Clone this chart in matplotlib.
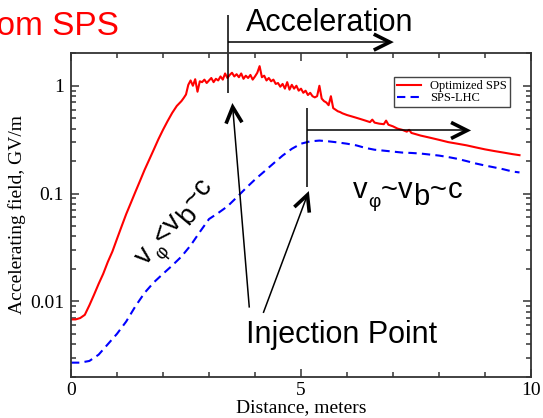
import numpy as np
import matplotlib
matplotlib.use("Agg")
import matplotlib.pyplot as plt
from matplotlib.ticker import FixedLocator, FixedFormatter, LogLocator, NullFormatter, MultipleLocator

# ---- data -------------------------------------------------------------
# Optimized SPS: accelerating field (GV/m) vs distance (m)
opt_x = [0.0, 0.1, 0.2, 0.3, 0.4, 0.5, 0.6, 0.7, 0.8, 0.9,
         1.0, 1.1, 1.2, 1.3, 1.4, 1.5, 1.6, 1.7, 1.8, 1.9,
         2.0, 2.1, 2.2, 2.3, 2.4, 2.45, 2.5,
         2.55, 2.60, 2.65, 2.70, 2.75, 2.80, 2.85, 2.90, 2.95, 3.00,
         3.05, 3.10, 3.15, 3.20, 3.25, 3.30, 3.35, 3.40, 3.45, 3.50,
         3.55, 3.60, 3.65, 3.70, 3.75, 3.80, 3.85, 3.90, 3.95, 4.00,
         4.05, 4.10, 4.15, 4.20, 4.25, 4.30, 4.35, 4.40, 4.45, 4.50,
         4.55, 4.60, 4.65, 4.70, 4.75, 4.80, 4.85, 4.90, 4.95, 5.00,
         5.05, 5.10, 5.15, 5.20, 5.25, 5.30, 5.35, 5.40, 5.45, 5.50,
         5.55, 5.60, 5.65, 5.70, 5.75, 5.80, 5.85, 5.90, 5.95, 6.00,
         6.1, 6.2, 6.3, 6.4, 6.5, 6.55, 6.6, 6.7, 6.8, 6.85, 6.9,
         7.0, 7.1, 7.2, 7.3, 7.35, 7.4, 7.5, 7.6, 7.8, 8.0, 8.2,
         8.4, 8.6, 8.8, 9.0, 9.2, 9.4, 9.6, 9.75]
opt_y = [0.0068, 0.0068, 0.0070, 0.0075, 0.0092, 0.0115, 0.0145, 0.0180, 0.0232, 0.0290,
         0.0380, 0.0496, 0.0645, 0.0817, 0.1037, 0.1310, 0.1660, 0.2060, 0.2560, 0.3190,
         0.3900, 0.4700, 0.5600, 0.6500, 0.7200, 0.7700, 0.8300,
         1.02, 1.12, 1.00, 1.15, 0.88, 1.10, 1.08, 1.14, 1.06, 1.12,
         1.18, 1.08, 1.16, 1.12, 1.22, 1.14, 1.30, 1.18, 1.26, 1.32,
         1.22, 1.28, 1.20, 1.30, 1.16, 1.24, 1.18, 1.26, 1.14, 1.22,
         1.32, 1.52, 1.20, 1.24, 1.12, 1.18, 1.10, 1.14, 1.04, 1.06,
         0.98, 1.04, 0.94, 1.08, 0.92, 1.02, 0.94, 1.00, 0.90, 0.94,
         0.86, 0.90, 0.82, 0.86, 0.80, 0.78, 0.80, 1.00, 0.76, 0.72,
         0.70, 0.66, 0.80, 0.62, 0.60, 0.58, 0.57, 0.555, 0.545, 0.535,
         0.52, 0.505, 0.49, 0.475, 0.46, 0.485, 0.455, 0.445, 0.44, 0.475, 0.435,
         0.42, 0.40, 0.39, 0.375, 0.39, 0.365, 0.355, 0.345, 0.33, 0.315, 0.30,
         0.29, 0.28, 0.268, 0.257, 0.248, 0.24, 0.232, 0.227]

# SPS-LHC
lhc_x = [0.0, 0.2, 0.4, 0.6, 0.8, 1.0, 1.2, 1.4, 1.6, 1.8,
         2.0, 2.2, 2.4, 2.6, 2.8, 3.0, 3.2, 3.4, 3.6, 3.8,
         4.0, 4.2, 4.4, 4.6, 4.8, 5.0, 5.2, 5.4, 5.6, 5.8,
         6.0, 6.2, 6.4, 6.6, 6.8, 7.0, 7.2, 7.4, 7.6, 7.8,
         8.0, 8.2, 8.4, 8.6, 8.8, 9.0, 9.2, 9.4, 9.6, 9.75]
lhc_y = [0.0027, 0.0027, 0.0028, 0.0032, 0.0040, 0.0050, 0.0065, 0.0090, 0.0120, 0.0150,
         0.0180, 0.0215, 0.0260, 0.0330, 0.0440, 0.0580, 0.0660, 0.0760, 0.0920, 0.1120,
         0.1350, 0.1600, 0.1900, 0.2250, 0.2600, 0.2900, 0.3050, 0.3100, 0.3050, 0.2980,
         0.2900, 0.2800, 0.2650, 0.2550, 0.2500, 0.2450, 0.2400, 0.2380, 0.2350, 0.2300,
         0.2250, 0.2180, 0.2100, 0.2000, 0.1900, 0.1820, 0.1750, 0.1680, 0.1600, 0.1570]

series_labels = ["Optimized SPS", "SPS-LHC"]
y_ticks = [0.01, 0.1, 1]
y_tick_labels = ["0.01", "0.1", "1"]
x_ticks = [0, 5, 10]
x_tick_labels = ["0", "5", "10"]

# ---- figure -------------------------------------------------------------
W, H = 543, 418
fig = plt.figure(figsize=(W / 100, H / 100), dpi=100)
ax = fig.add_axes([71 / W, 1 - 376.7 / H, 460 / W, 323.4 / H])

serif = "Liberation Serif"
sans = "Liberation Sans"

ax.plot(opt_x, opt_y, color="#ff0000", lw=1.5, label=series_labels[0])
ax.plot(lhc_x, lhc_y, color="#0000ff", lw=1.5, ls=(0, (4, 2.5)), label=series_labels[1])

ax.set_yscale("log")
ax.set_xlim(0, 10)
ax.set_ylim(0.002, 2.0)

ax.xaxis.set_major_locator(FixedLocator(x_ticks))
ax.xaxis.set_major_formatter(FixedFormatter(x_tick_labels))
ax.xaxis.set_minor_locator(MultipleLocator(1))
ax.yaxis.set_major_locator(FixedLocator(y_ticks))
ax.yaxis.set_major_formatter(FixedFormatter(y_tick_labels))
ax.yaxis.set_minor_locator(LogLocator(base=10, subs=np.arange(2, 10)))
ax.yaxis.set_minor_formatter(NullFormatter())

ax.tick_params(which="both", direction="in", top=True, right=True, color="#333333", width=1.1)
ax.tick_params(which="major", length=6)
ax.tick_params(which="minor", length=3.5)
ax.tick_params(axis="x", which="major", pad=4)
ax.tick_params(axis="y", which="major", pad=5)
for lab in ax.get_xticklabels() + ax.get_yticklabels():
    lab.set_fontfamily(serif)
    lab.set_fontsize(14)
for s in ax.spines.values():
    s.set_linewidth(1.3)
    s.set_color("#333333")

ax.set_xlabel("Distance, meters", fontfamily=serif, fontsize=14, labelpad=0)
ax.set_ylabel("Accelerating field, GV/m", fontfamily=serif, fontsize=14, labelpad=3)

leg = ax.legend(loc="upper right", bbox_to_anchor=(0.954, 0.927), prop={"family": serif, "size": 9},
                frameon=True, fancybox=False, edgecolor="#444444", framealpha=1,
                borderpad=0.25, labelspacing=0.0, handlelength=1.9, handletextpad=0.7,
                borderaxespad=0)
leg.get_frame().set_linewidth(1.0)

# ---- annotations ----------------------------------------------------------
def line(xs, ys, lw=1.1):
    ax.plot(xs, ys, color="black", lw=lw, clip_on=False, solid_capstyle="butt")


def chevron(tail, tip, size=16, half=8, lw=2.6):
    p0 = ax.transData.transform(tail)
    p1 = ax.transData.transform(tip)
    d = (p1 - p0) / np.hypot(*(p1 - p0))
    n = np.array([-d[1], d[0]])
    pts = np.array([p1 - d * size + n * half, p1, p1 - d * size - n * half])
    dat = ax.transData.inverted().transform(pts)
    ax.plot(dat[:, 0], dat[:, 1], color="black", lw=lw, clip_on=False,
            solid_joinstyle="miter", solid_capstyle="butt")


def arrow(tail, tip):
    line([tail[0], tip[0]], [tail[1], tip[1]])
    chevron(tail, tip)


# acceleration start marker and arrow
line([3.41, 3.41], [4.5, 0.855])
arrow((3.41, 2.54), (6.93, 2.54))
# second marker and arrow
line([5.14, 5.14], [0.622, 0.115])
arrow((5.14, 0.385), (8.61, 0.385))
# injection point arrows
arrow((3.876, 0.00875), (3.515, 0.635))
arrow((4.18, 0.00781), (5.14, 0.0973))

ax.text(3.8, 10 ** ((85.7 - 30.5) / 108), "Acceleration", fontfamily=sans, fontsize=22,
        ha="left", va="baseline", clip_on=False)
ax.text(3.8, 10 ** ((85.7 - 343) / 108), "Injection Point", fontfamily=sans, fontsize=22,
        ha="left", va="baseline", clip_on=False)
fig.text(119 / W, 1 - 35 / H, "from SPS", fontfamily=sans, fontsize=24, color="#ff0000",
         ha="right", va="baseline")


def rich_text(x, y, pieces, angle, size, gap):
    renderer = fig.canvas.get_renderer()
    o = ax.transData.transform((x, y))
    th = np.deg2rad(angle)
    u = np.array([np.cos(th), np.sin(th)])
    n = np.array([-np.sin(th), np.cos(th)])
    adv = 0.0
    for s, scale, drop in pieces:
        fs = size * scale
        tmp = fig.text(0, 0, s, fontsize=fs, fontfamily=sans)
        w = tmp.get_window_extent(renderer).width
        tmp.remove()
        p = o + adv * u - drop * n
        fig.text(p[0] / W, p[1] / H, s, fontsize=fs, fontfamily=sans, rotation=angle,
                 rotation_mode="anchor", ha="left", va="baseline")
        adv += w + gap


rich_text(6.13, 0.0906, [("v", 1, 0), ("φ", 0.65, 9), ("~", 1, 0), ("v", 1, 0),
                         ("b", 1, 7), ("~", 1, 0), ("c", 1, 0)], 0, 21, 0.5)
rich_text(1.63, 0.0214, [("v", 1, 0), ("φ", 0.65, 9), ("<", 1, 0), ("v", 1, 0),
                         ("b", 1, 7), ("~", 1, 0), ("c", 1, 0)], 50, 20, 0.5)

fig.savefig("out.png", dpi=100)
